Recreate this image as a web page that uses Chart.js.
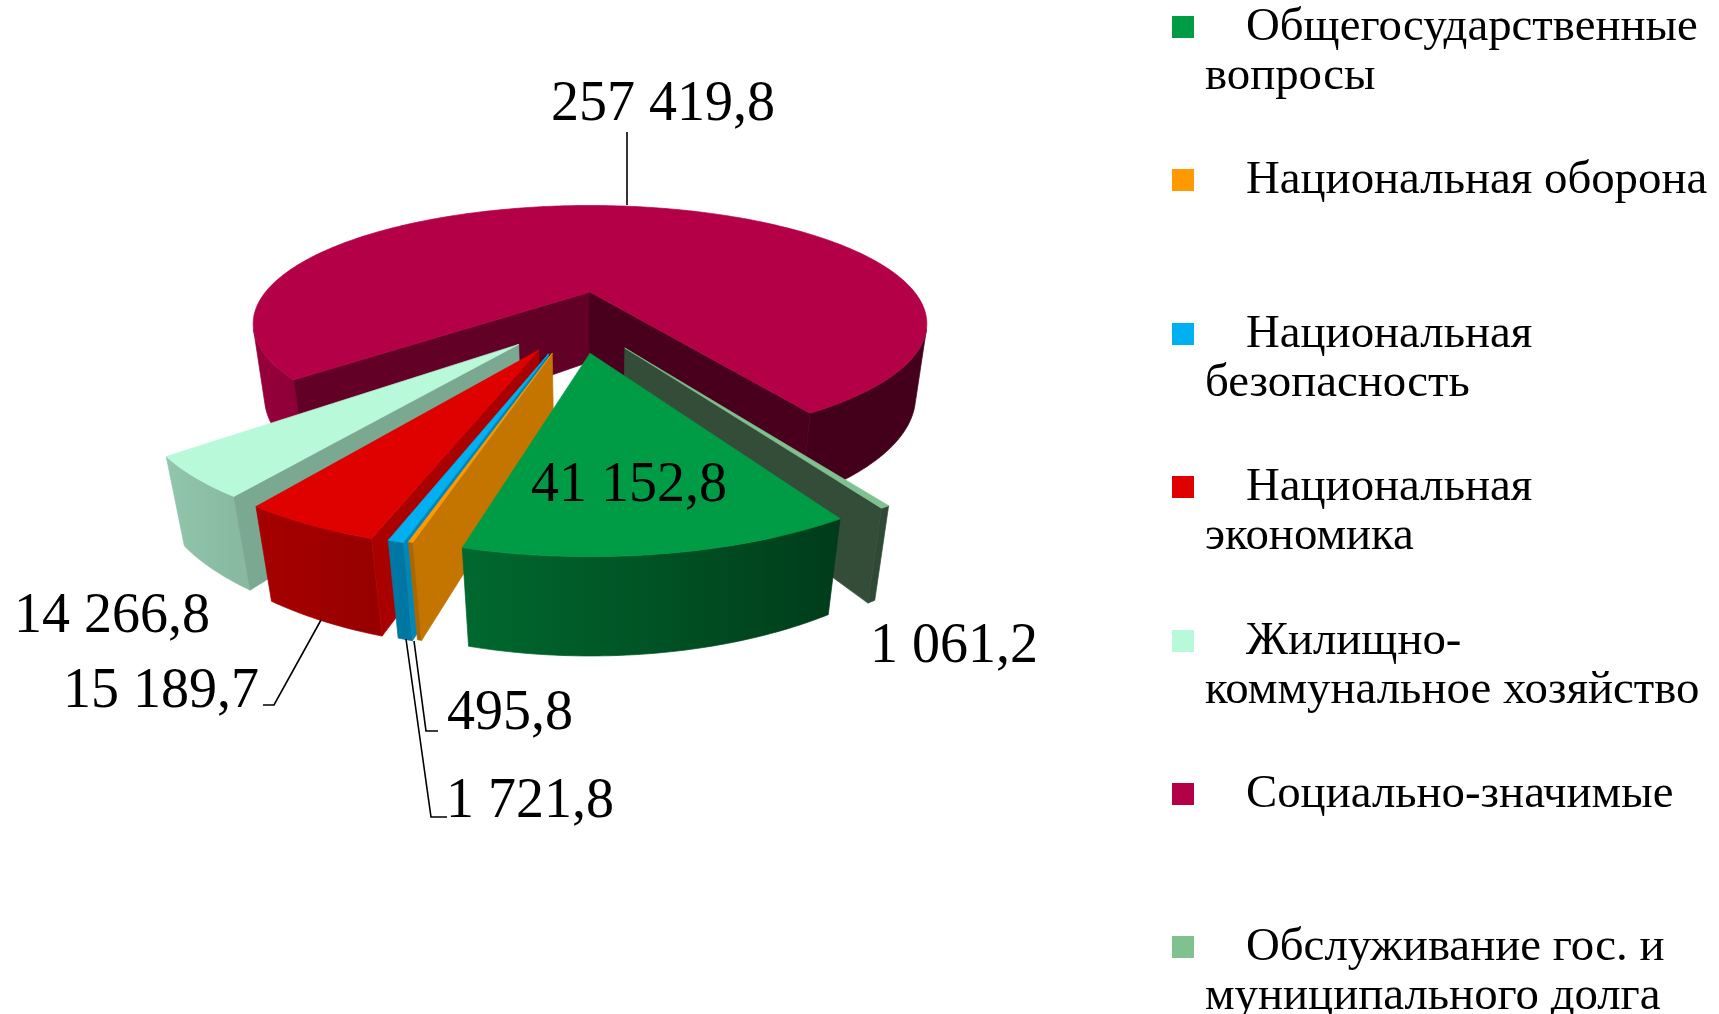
<!DOCTYPE html>
<html lang="ru">
<head>
<meta charset="utf-8">
<title>Структура расходов</title>
<script src="https://cdn.jsdelivr.net/npm/chart.js@4/dist/chart.umd.min.js"></script>
<style>
  html, body { margin: 0; background: #fff; overflow: hidden; }
  #wrap { position: relative; width: 1719px; height: 1014px; overflow: hidden; }
  #grafico { position: absolute; left: 0; top: 0; }
  #legenda { position: absolute; left: 1172px; top: 0; width: 547px; font: 46.8px/49px "Liberation Serif", serif; color: #000; }
  .item { position: absolute; left: 0; width: 560px; white-space: pre-line; padding-left: 33px; box-sizing: border-box; text-indent: 41px; }
  .box { position: absolute; left: 0; top: 16px; width: 22px; height: 22px; }
</style>
</head>
<body>
<div id="wrap">
  <canvas id="grafico" width="1719" height="1014"></canvas>
  <div id="legenda"></div>
</div>
<script>
const categorias = [
  'Общегосударственные\nвопросы',
  'Национальная оборона',
  'Национальная\nбезопасность',
  'Национальная\nэкономика',
  'Жилищно-\nкоммунальное хозяйство',
  'Социально-значимые',
  'Обслуживание гос. и\nмуниципального долга'
];
const valores = [41152.8, 495.8, 1721.8, 15189.7, 14266.8, 257419.8, 1061.2];
const cores = ['#009C45', '#FF9900', '#00B0F0', '#DF0000', '#B7F9D8', '#B40046', '#7FC18F'];
// explosion of each slice, how much of it goes sideways, and how much the slice shrinks
const explosao = [159, 163, 165, 166, 182, 0, 170];
const lateral = [0, 0.8, 0.8, 0.64, 0.53, 1, 0.35];
const encolhe = [0.98, 0.96, 0.96, 0.98, 0.98, 1, 0.975];
// text position of each value label, same order as valores
const posRotulos = [[629, 501], [510, 729], [530, 817], [161, 707], [112, 632], [663, 120], [954, 662]];
const guias = [
  [[627, 132], [627, 205]],
  [[321, 620], [274, 705], [263, 705]],
  [[414, 641], [426, 731], [438, 731]],
  [[406, 639], [431, 817], [447, 817]]
];

const CX = 590, CY = 292, RAIO = 324.5;
const K = 0.268 / RAIO, TILT = 0.338, ALTURA = 72, FUNDO = 0.032;

function projetar(u, v, z) {
  const w = 1 - K * v + FUNDO * z;
  return [CX + u / w, CY + (v * TILT + ALTURA * z) / w];
}

function area(pts) {
  let s = 0;
  pts.forEach((p, i) => {
    const q = pts[(i + 1) % pts.length];
    s += p[0] * q[1] - q[0] * p[1];
  });
  return s;
}

function tom(hex, f) {
  const n = parseInt(hex.slice(1), 16);
  return `rgb(${Math.round((n >> 16) * f)},${Math.round(((n >> 8) & 255) * f)},${Math.round((n & 255) * f)})`;
}

function poligono(ctx, pts, cor) {
  ctx.fillStyle = cor;
  ctx.strokeStyle = cor;
  ctx.lineWidth = 0.7;
  ctx.beginPath();
  pts.forEach((p, i) => i ? ctx.lineTo(p[0], p[1]) : ctx.moveTo(p[0], p[1]));
  ctx.closePath();
  ctx.fill();
  ctx.stroke();
}

function tomExterno(nu) {
  if (nu <= -0.24) return 0.67 + (-0.24 - nu) * 0.25;
  if (nu >= 0.5) return 0.38;
  return 0.67 - (nu + 0.24) * 0.39;
}

function tomCorte(nu) {
  return nu < 0 ? 0.4 : 0.55 + (nu - 0.66) * 0.7;
}

// one run of visible outer wall, shaded with a horizontal gradient
function paredeExterna(ctx, trecho, cor, borda) {
  const cima = trecho.map(a => borda(a, 0));
  const baixo = trecho.map(a => borda(a, 1)).reverse();
  const xs = cima.map(p => p[0]);
  const x0 = Math.min(...xs), x1 = Math.max(...xs);
  let tinta = tom(cor, tomExterno(Math.sin(trecho[0])));
  if (x1 - x0 > 1) {
    tinta = ctx.createLinearGradient(x0, 0, x1, 0);
    trecho.forEach((a, i) => {
      tinta.addColorStop(Math.min(1, Math.max(0, (xs[i] - x0) / (x1 - x0))), tom(cor, tomExterno(Math.sin(a))));
    });
  }
  poligono(ctx, cima.concat(baixo), tinta);
}

function fatia(ctx, arc, i) {
  const p = arc.getProps(['startAngle', 'endAngle', 'outerRadius']);
  const ini = p.startAngle + Math.PI / 2, fim = p.endAngle + Math.PI / 2;
  const meio = (ini + fim) / 2;
  const u0 = arc.options.offset * Math.sin(meio) * lateral[i];
  const v0 = -arc.options.offset * Math.cos(meio);
  const R = p.outerRadius * encolhe[i];
  const borda = (a, z) => projetar(u0 + R * Math.sin(a), v0 - R * Math.cos(a), z);
  const apice = z => projetar(u0, v0, z);
  const passos = Math.max(2, Math.ceil((fim - ini) / 0.015));
  const cor = cores[i];

  // outer wall
  let trecho = [];
  for (let s = 0; s < passos; s++) {
    const a = ini + (fim - ini) * s / passos, b = ini + (fim - ini) * (s + 1) / passos;
    if (area([borda(a, 0), borda(b, 0), borda(b, 1), borda(a, 1)]) < 0) {
      if (!trecho.length) trecho.push(a);
      trecho.push(b);
    } else if (trecho.length) {
      paredeExterna(ctx, trecho, cor, borda);
      trecho = [];
    }
  }
  if (trecho.length) paredeExterna(ctx, trecho, cor, borda);
  // cut walls
  const paredeIni = [apice(0), borda(ini, 0), borda(ini, 1), apice(1)];
  const paredeFim = [borda(fim, 0), apice(0), apice(1), borda(fim, 1)];
  if (area(paredeIni) < 0) poligono(ctx, paredeIni, tom(cor, tomCorte(-Math.cos(ini))));
  if (area(paredeFim) < 0) poligono(ctx, paredeFim, tom(cor, tomCorte(Math.cos(fim))));
  // top
  const topo = [apice(0)];
  for (let s = 0; s <= passos; s++) topo.push(borda(ini + (fim - ini) * s / passos, 0));
  poligono(ctx, topo, cor);
}

function formatar(v) {
  const [inteiro, dec] = v.toFixed(1).split('.');
  return inteiro.replace(/\B(?=(\d{3})+$)/g, ' ') + ',' + dec;
}

const pizza3d = {
  id: 'pizza3d',
  beforeDatasetDraw(chart) {
    const ctx = chart.ctx;
    const arcos = chart.getDatasetMeta(0).data;
    const dist = i => {
      const m = (arcos[i].startAngle + arcos[i].endAngle) / 2 + Math.PI / 2;
      return Math.abs(Math.atan2(Math.sin(m), -Math.cos(m)));
    };
    const ordem = arcos.map((a, i) => i).sort((a, b) => dist(b) - dist(a));
    ordem.forEach(i => fatia(ctx, arcos[i], i));
    return false;
  },
  afterDraw(chart) {
    const ctx = chart.ctx;
    ctx.save();
    ctx.strokeStyle = '#000';
    ctx.lineWidth = 1.6;
    guias.forEach(g => {
      ctx.beginPath();
      g.forEach((p, i) => i ? ctx.lineTo(p[0], p[1]) : ctx.moveTo(p[0], p[1]));
      ctx.stroke();
    });
    ctx.fillStyle = '#000';
    ctx.font = '56px "Liberation Serif", serif';
    ctx.textAlign = 'center';
    ctx.textBaseline = 'alphabetic';
    valores.forEach((v, i) => ctx.fillText(formatar(v), posRotulos[i][0], posRotulos[i][1]));
    ctx.restore();
  }
};

const ctx = document.getElementById('grafico').getContext('2d');
const grafico = new Chart(ctx, {
  type: 'pie',
  data: {
    labels: categorias,
    datasets: [{
      data: valores,
      backgroundColor: cores,
      borderWidth: 0,
      offset: explosao
    }]
  },
  options: {
    responsive: false,
    animation: false,
    rotation: 149.6,
    radius: RAIO,
    layout: { padding: { left: 0, top: 0, right: 1719 - 2 * CX, bottom: 1014 - 2 * CY } },
    plugins: { legend: { display: false }, tooltip: { enabled: false } }
  },
  plugins: [pizza3d]
});

// Legenda em HTML
const legenda = document.getElementById('legenda');
grafico.options.plugins.legend.labels.generateLabels(grafico).forEach((item, i) => {
  const linha = document.createElement('div');
  linha.className = 'item';
  linha.style.top = (153.4 * i) + 'px';
  linha.textContent = item.text;
  const box = document.createElement('span');
  box.className = 'box';
  box.style.background = item.fillStyle;
  box.style.textIndent = '0';
  linha.appendChild(box);
  legenda.appendChild(linha);
});
</script>
</body>
</html>
